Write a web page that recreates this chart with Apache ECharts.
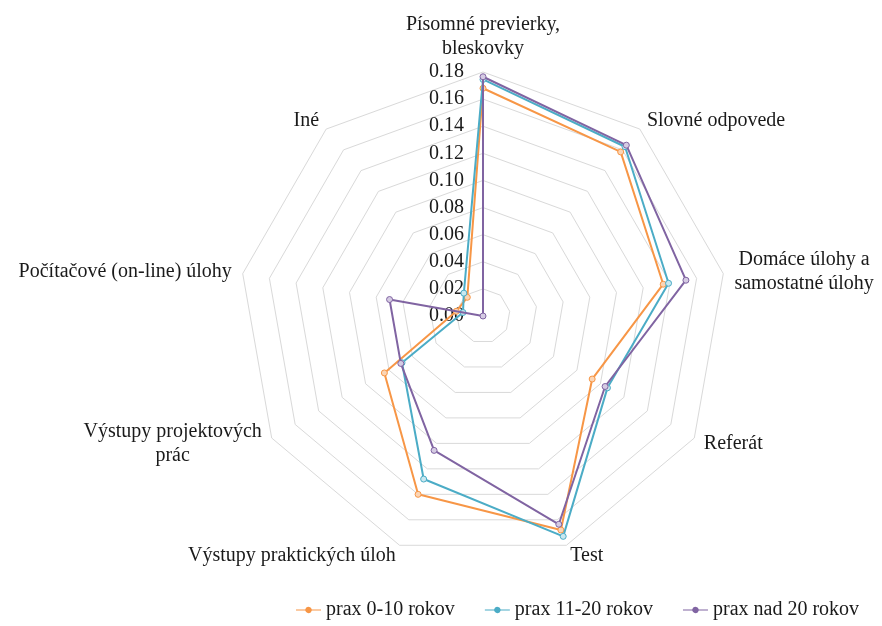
<!DOCTYPE html>
<html>
<head>
<meta charset="utf-8">
<script src="https://cdn.jsdelivr.net/npm/echarts@6/dist/echarts.min.js"></script>
<style>
  html, body { margin: 0; padding: 0; background: #ffffff; }
  #chart { width: 882px; height: 626px; }
</style>
</head>
<body>
<div id="chart"></div>
<script>
// Assessment methods (clockwise from the top) and shares per teaching-experience group
const categories = [
  'Písomné previerky,\nbleskovky',
  'Slovné odpovede',
  'Domáce úlohy a\nsamostatné úlohy',
  'Referát',
  'Test',
  'Výstupy praktických úloh',
  'Výstupy projektových\nprác',
  'Počítačové (on-line) úlohy',
  'Iné'
];
const seriesNames = ['prax 0-10 rokov', 'prax 11-20 rokov', 'prax nad 20 rokov'];
const prax0to10  = [0.168, 0.158, 0.135, 0.093, 0.168, 0.140, 0.084, 0.020, 0.018];
const prax11to20 = [0.1745, 0.163, 0.139, 0.106, 0.173, 0.128, 0.069, 0.015, 0.022];
const praxOver20 = [0.1765, 0.1645, 0.152, 0.104, 0.1635, 0.1055, 0.070, 0.070, 0.000];
const axisMin = 0;
const axisMax = 0.18;
const axisSplits = 9;

const FONT = 'Liberation Serif, Times New Roman, serif';
const TEXT_COLOR = '#1a1a1a';
const NAME_SIZE = 20;
const colors = ['#F79646', '#4BACC6', '#8064A2'];
const tints  = ['#FBD5B5', '#C9E8F0', '#D5CBE3'];
const valuesBySeries = [prax0to10, prax11to20, praxOver20];

// ECharts lays radar indicators out counter-clockwise; reorder so they run clockwise.
const order = [0].concat(categories.map((_, i) => i).slice(1).reverse());

// Multi-line names: each line centred within the block width.
const measureCtx = document.createElement('canvas').getContext('2d');
measureCtx.font = NAME_SIZE + 'px ' + FONT;
const rich = {};
const nameKey = {};
categories.forEach((c, i) => {
  if (c.indexOf('\n') >= 0) {
    const w = Math.max.apply(null, c.split('\n').map(l => measureCtx.measureText(l).width));
    const key = 'n' + i;
    nameKey[c] = key;
    rich[key] = { width: Math.ceil(w), align: 'center', fontFamily: FONT, fontSize: NAME_SIZE,
                  lineHeight: 24, color: TEXT_COLOR };
  }
});

const indicators = order.map((idx, k) => {
  const ind = { name: categories[idx], min: axisMin, max: axisMax };
  if (k === 0) {
    ind.axisLabel = { show: true };
  }
  return ind;
});

const series = valuesBySeries.map((vals, s) => ({
  type: 'radar',
  name: seriesNames[s],
  z: 2 + s,
  symbol: 'circle',
  symbolSize: 6,
  lineStyle: { color: colors[s], width: 2 },
  itemStyle: { color: tints[s], borderColor: colors[s], borderWidth: 1 },
  data: [{ name: seriesNames[s], value: order.map(i => vals[i]) }]
}));

const legendIcon = 'path://M0,3.4H9.2A3.4,3.4 0 0 1 15.8,3.4H25V4.6H15.8A3.4,3.4 0 0 1 9.2,4.6H0Z';

const option = {
  backgroundColor: '#ffffff',
  animation: false,
  radar: {
    center: [483, 316],
    radius: 244,
    startAngle: 90,
    splitNumber: axisSplits,
    shape: 'polygon',
    nameGap: 11,
    indicator: indicators,
    axisName: {
      color: TEXT_COLOR,
      fontFamily: FONT,
      fontSize: NAME_SIZE,
      lineHeight: 24,
      formatter: function (name) {
        const key = nameKey[name];
        if (!key) return name;
        return name.split('\n').map(l => '{' + key + '|' + l + '}').join('\n');
      },
      rich: rich
    },
    axisLine: { show: false },
    axisTick: { show: false },
    axisLabel: {
      show: false,
      color: TEXT_COLOR,
      fontFamily: FONT,
      fontSize: 20,
      margin: 19,
      formatter: v => Number(v).toFixed(2)
    },
    splitLine: { lineStyle: { color: '#d9d9d9', width: 1 } },
    splitArea: { show: false }
  },
  legend: {
    left: 291,
    top: 595,
    itemWidth: 25,
    itemHeight: 8,
    itemGap: 30,
    textStyle: { color: TEXT_COLOR, fontFamily: FONT, fontSize: 20 },
    data: seriesNames.map((n, s) => ({
      name: n,
      icon: legendIcon,
      itemStyle: { color: colors[s], borderWidth: 0 }
    }))
  },
  series: series
};

const chart = echarts.init(document.getElementById('chart'), null, { renderer: 'canvas' });
chart.setOption(option);
</script>
</body>
</html>
